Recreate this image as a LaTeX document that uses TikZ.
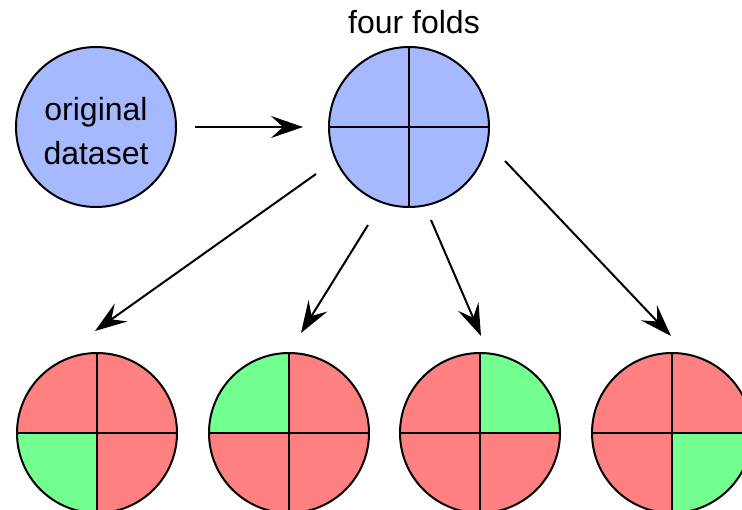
\documentclass[tikz,border=0pt]{standalone}
\usepackage{fontspec}
\setmainfont{Liberation Sans}
\usetikzlibrary{arrows.meta}
\definecolor{dsblue}{RGB}{166,185,255}
\definecolor{foldred}{RGB}{255,128,128}
\definecolor{foldgreen}{RGB}{115,255,143}
\tikzset{
  disc/.style={circle, draw=black, line width=2pt, minimum size=160pt, inner sep=0pt},
  flow/.style={line width=2pt, -{Stealth[length=32pt,width=22pt,inset=12pt]}},
  split/.style={line width=2pt},
  lbl/.style={font=\fontsize{32}{40}\selectfont, align=center}
}
% quadrant fills of a fold disc: #1 centre, #2..#5 colours TL, TR, BL, BR
\newcommand{\quadfill}[5]{%
  \begin{scope}
    \clip #1 circle (80pt);
    \fill[#2] #1 rectangle ++(-81,-81);
    \fill[#3] #1 rectangle ++(81,-81);
    \fill[#4] #1 rectangle ++(-81,81);
    \fill[#5] #1 rectangle ++(81,81);
  \end{scope}}
\newcommand{\quadlines}[1]{%
  \draw[split] (#1.north) -- (#1.south);
  \draw[split] (#1.west) -- (#1.east);}
\begin{document}
\begin{tikzpicture}[x=1pt,y=-1pt]
  \useasboundingbox (0,0) rectangle (742,510);
  \clip (0,0) rectangle (742,510);
  \fill[white] (0,0) rectangle (742,510);

  % source data and the four-fold split
  \node[disc, fill=dsblue] (orig) at (96,127) {};
  \node[lbl] (origtext) at (96,131) {original\\[4pt]dataset};
  \node[disc, fill=dsblue] (folds) at (409,127) {};
  \quadlines{folds}
  \node[lbl, anchor=base] (title) at (414,34) {four folds};

  % one disc per round, the held-out fold in green
  \quadfill{(97,433)}{foldred}{foldred}{foldgreen}{foldred}
  \node[disc] (r1) at (97,433) {};
  \quadlines{r1}
  \quadfill{(289,433)}{foldgreen}{foldred}{foldred}{foldred}
  \node[disc] (r2) at (289,433) {};
  \quadlines{r2}
  \quadfill{(480,433)}{foldred}{foldgreen}{foldred}{foldred}
  \node[disc] (r3) at (480,433) {};
  \quadlines{r3}
  \quadfill{(672,433)}{foldred}{foldred}{foldred}{foldgreen}
  \node[disc] (r4) at (672,433) {};
  \quadlines{r4}

  % arrow end points
  \coordinate (s0) at (195,127);  \coordinate (e0) at (303,127);
  \coordinate (s1) at (316,174);  \coordinate (e1) at (95,331);
  \coordinate (s2) at (368,225);  \coordinate (e2) at (301,333);
  \coordinate (s3) at (431,220);  \coordinate (e3) at (481,336);
  \coordinate (s4) at (505,161);  \coordinate (e4) at (671,336);

  \draw[flow] (s0) -- (e0);
  \draw[flow] (s1) -- (e1);
  \draw[flow] (s2) -- (e2);
  \draw[flow] (s3) -- (e3);
  \draw[flow] (s4) -- (e4);
\end{tikzpicture}
\end{document}
